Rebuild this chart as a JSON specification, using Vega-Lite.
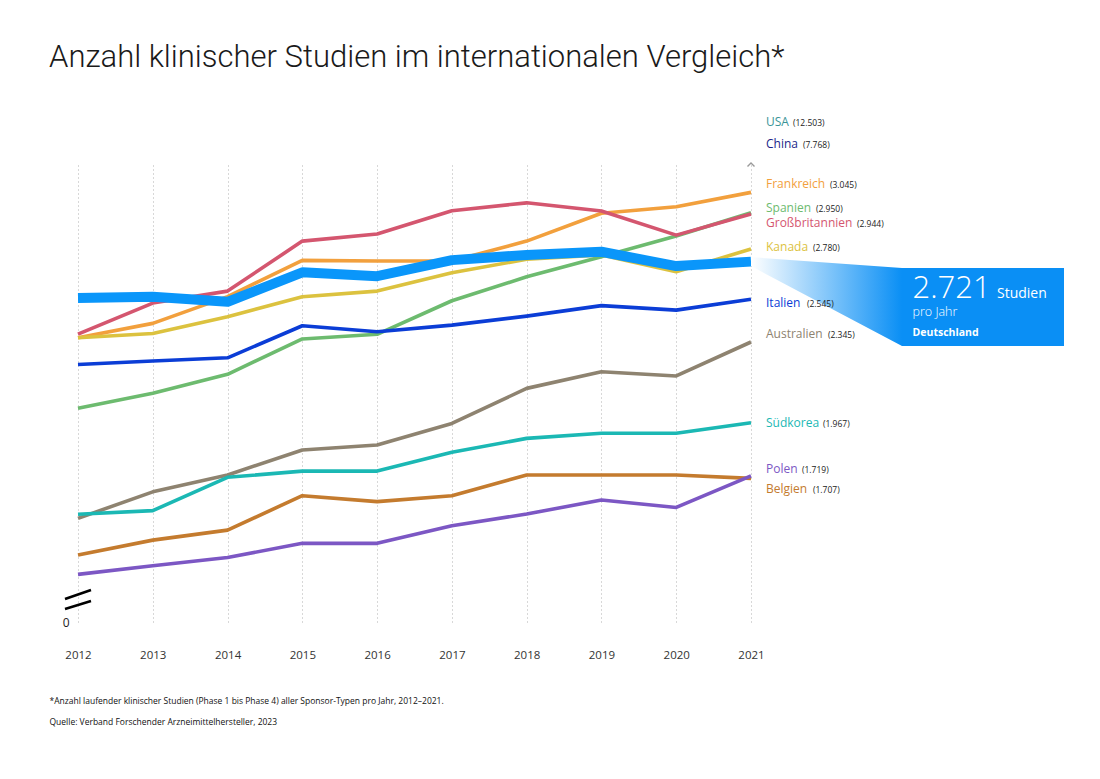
{
  "$schema": "https://vega.github.io/schema/vega-lite/v6.json",
  "width": 673,
  "height": 460,
  "autosize": "none",
  "padding": {"left": 78, "top": 165, "right": 349, "bottom": 154},
  "background": "white",
  "config": {"view": {"stroke": null}, "font": "Open Sans", "text": {"font": "Open Sans"}},
  "title": {
    "text": "Anzahl klinischer Studien im internationalen Vergleich*",
    "anchor": "start",
    "frame": "group",
    "dx": -29,
    "font": "Roboto",
    "fontSize": 31,
    "fontWeight": 300,
    "color": "#1a1a1a",
    "baseline": "alphabetic",
    "offset": 18
  },
  "datasets": {
    "series": [
      {"country": "Frankreich", "year": 2012, "value": 2365}, {"country": "Frankreich", "year": 2013, "value": 2432}, {"country": "Frankreich", "year": 2014, "value": 2557}, {"country": "Frankreich", "year": 2015, "value": 2727}, {"country": "Frankreich", "year": 2016, "value": 2724}, {"country": "Frankreich", "year": 2017, "value": 2724}, {"country": "Frankreich", "year": 2018, "value": 2817}, {"country": "Frankreich", "year": 2019, "value": 2947}, {"country": "Frankreich", "year": 2020, "value": 2978}, {"country": "Frankreich", "year": 2021, "value": 3045},
      {"country": "Spanien", "year": 2012, "value": 2035}, {"country": "Spanien", "year": 2013, "value": 2105}, {"country": "Spanien", "year": 2014, "value": 2194}, {"country": "Spanien", "year": 2015, "value": 2359}, {"country": "Spanien", "year": 2016, "value": 2381}, {"country": "Spanien", "year": 2017, "value": 2538}, {"country": "Spanien", "year": 2018, "value": 2650}, {"country": "Spanien", "year": 2019, "value": 2744}, {"country": "Spanien", "year": 2020, "value": 2841}, {"country": "Spanien", "year": 2021, "value": 2950},
      {"country": "Großbritannien", "year": 2012, "value": 2382}, {"country": "Großbritannien", "year": 2013, "value": 2527}, {"country": "Großbritannien", "year": 2014, "value": 2583}, {"country": "Großbritannien", "year": 2015, "value": 2817}, {"country": "Großbritannien", "year": 2016, "value": 2850}, {"country": "Großbritannien", "year": 2017, "value": 2959}, {"country": "Großbritannien", "year": 2018, "value": 2996}, {"country": "Großbritannien", "year": 2019, "value": 2958}, {"country": "Großbritannien", "year": 2020, "value": 2845}, {"country": "Großbritannien", "year": 2021, "value": 2944},
      {"country": "Kanada", "year": 2012, "value": 2365}, {"country": "Kanada", "year": 2013, "value": 2385}, {"country": "Kanada", "year": 2014, "value": 2463}, {"country": "Kanada", "year": 2015, "value": 2557}, {"country": "Kanada", "year": 2016, "value": 2583}, {"country": "Kanada", "year": 2017, "value": 2669}, {"country": "Kanada", "year": 2018, "value": 2732}, {"country": "Kanada", "year": 2019, "value": 2752}, {"country": "Kanada", "year": 2020, "value": 2674}, {"country": "Kanada", "year": 2021, "value": 2780},
      {"country": "Italien", "year": 2012, "value": 2240}, {"country": "Italien", "year": 2013, "value": 2256}, {"country": "Italien", "year": 2014, "value": 2271}, {"country": "Italien", "year": 2015, "value": 2421}, {"country": "Italien", "year": 2016, "value": 2393}, {"country": "Italien", "year": 2017, "value": 2424}, {"country": "Italien", "year": 2018, "value": 2466}, {"country": "Italien", "year": 2019, "value": 2515}, {"country": "Italien", "year": 2020, "value": 2494}, {"country": "Italien", "year": 2021, "value": 2545},
      {"country": "Australien", "year": 2012, "value": 1520}, {"country": "Australien", "year": 2013, "value": 1644}, {"country": "Australien", "year": 2014, "value": 1723}, {"country": "Australien", "year": 2015, "value": 1840}, {"country": "Australien", "year": 2016, "value": 1863}, {"country": "Australien", "year": 2017, "value": 1964}, {"country": "Australien", "year": 2018, "value": 2128}, {"country": "Australien", "year": 2019, "value": 2206}, {"country": "Australien", "year": 2020, "value": 2186}, {"country": "Australien", "year": 2021, "value": 2345},
      {"country": "Südkorea", "year": 2012, "value": 1539}, {"country": "Südkorea", "year": 2013, "value": 1556}, {"country": "Südkorea", "year": 2014, "value": 1712}, {"country": "Südkorea", "year": 2015, "value": 1741}, {"country": "Südkorea", "year": 2016, "value": 1741}, {"country": "Südkorea", "year": 2017, "value": 1829}, {"country": "Südkorea", "year": 2018, "value": 1894}, {"country": "Südkorea", "year": 2019, "value": 1918}, {"country": "Südkorea", "year": 2020, "value": 1918}, {"country": "Südkorea", "year": 2021, "value": 1967},
      {"country": "Belgien", "year": 2012, "value": 1348}, {"country": "Belgien", "year": 2013, "value": 1418}, {"country": "Belgien", "year": 2014, "value": 1465}, {"country": "Belgien", "year": 2015, "value": 1626}, {"country": "Belgien", "year": 2016, "value": 1598}, {"country": "Belgien", "year": 2017, "value": 1626}, {"country": "Belgien", "year": 2018, "value": 1723}, {"country": "Belgien", "year": 2019, "value": 1723}, {"country": "Belgien", "year": 2020, "value": 1723}, {"country": "Belgien", "year": 2021, "value": 1707},
      {"country": "Polen", "year": 2012, "value": 1258}, {"country": "Polen", "year": 2013, "value": 1298}, {"country": "Polen", "year": 2014, "value": 1337}, {"country": "Polen", "year": 2015, "value": 1403}, {"country": "Polen", "year": 2016, "value": 1403}, {"country": "Polen", "year": 2017, "value": 1485}, {"country": "Polen", "year": 2018, "value": 1540}, {"country": "Polen", "year": 2019, "value": 1606}, {"country": "Polen", "year": 2020, "value": 1571}, {"country": "Polen", "year": 2021, "value": 1719},
      {"country": "Deutschland", "year": 2012, "value": 2551}, {"country": "Deutschland", "year": 2013, "value": 2557}, {"country": "Deutschland", "year": 2014, "value": 2533}, {"country": "Deutschland", "year": 2015, "value": 2671}, {"country": "Deutschland", "year": 2016, "value": 2653}, {"country": "Deutschland", "year": 2017, "value": 2728}, {"country": "Deutschland", "year": 2018, "value": 2752}, {"country": "Deutschland", "year": 2019, "value": 2767}, {"country": "Deutschland", "year": 2020, "value": 2700}, {"country": "Deutschland", "year": 2021, "value": 2721}
    ],
    "labels": [
      {"country": "USA", "year": 2021, "value": 12503},
      {"country": "China", "year": 2021, "value": 7768},
      {"country": "Frankreich", "year": 2021, "value": 3045},
      {"country": "Spanien", "year": 2021, "value": 2950},
      {"country": "Großbritannien", "year": 2021, "value": 2944},
      {"country": "Kanada", "year": 2021, "value": 2780},
      {"country": "Italien", "year": 2021, "value": 2545},
      {"country": "Australien", "year": 2021, "value": 2345},
      {"country": "Südkorea", "year": 2021, "value": 1967},
      {"country": "Polen", "year": 2021, "value": 1719},
      {"country": "Belgien", "year": 2021, "value": 1707}
    ],
    "axisbreak": [
      {"year": 2012, "value": 1138}
    ]
  },
  "encoding": {
    "x": {"field": "year", "type": "quantitative", "scale": {"domain": [2012, 2021], "nice": false, "zero": false}},
    "y": {"field": "value", "type": "quantitative", "scale": {"domain": [1021, 3173], "nice": false, "zero": false, "clamp": true}},
    "color": {
      "field": "country", "type": "nominal", "legend": null,
      "scale": {
        "domain": ["USA", "China", "Frankreich", "Spanien", "Großbritannien", "Kanada", "Deutschland", "Italien", "Australien", "Südkorea", "Polen", "Belgien"],
        "range": ["#3a9497", "#1b1f8a", "#f2a03d", "#6dbb6f", "#d4566f", "#dcc23f", "#0a96fa", "#0b3dd6", "#8e8370", "#1bb8b4", "#7c57c4", "#c47b2e"]
      }
    }
  },
  "layer": [
    {
      "data": {"name": "series"},
      "transform": [{"filter": "datum.country !== 'Deutschland'"}],
      "mark": {"type": "line", "strokeWidth": 3.6, "strokeJoin": "round"},
      "encoding": {
        "x": {"field": "year", "type": "quantitative",
          "axis": {
            "values": [2012, 2013, 2014, 2015, 2016, 2017, 2018, 2019, 2020, 2021],
            "format": "d", "grid": true, "gridDash": [1, 3], "gridColor": "#b0b0b0", "gridWidth": 1,
            "domain": false, "ticks": false, "tickSize": 0, "labelPadding": 24,
            "labelFlush": false, "labelOverlap": false, "labelBound": false,
            "labelFont": "Open Sans", "labelFontSize": 11.5, "labelColor": "#333333",
            "title": ["*Anzahl laufender klinischer Studien (Phase 1 bis Phase 4) aller Sponsor-Typen pro Jahr, 2012–2021.", "Quelle: Verband Forschender Arzneimittelhersteller, 2023"],
            "titleFont": "Open Sans", "titleFontSize": 8.5, "titleFontWeight": "normal", "titleColor": "#111111",
            "titleAnchor": "start", "titleAlign": "left", "titleBaseline": "alphabetic",
            "titleX": -29, "titleY": 78, "titleLineHeight": 21.5
          }
        },
        "y": {"field": "value", "type": "quantitative",
          "axis": {
            "values": [1035], "labelExpr": "'0'", "grid": false, "domain": false, "ticks": false, "tickSize": 0,
            "labelPadding": 9, "labelFont": "Open Sans", "labelFontSize": 12, "labelColor": "#222222", "title": null
          }
        }
      }
    },
    {
      "data": {"name": "series"},
      "transform": [{"filter": "datum.country === 'Deutschland'"}],
      "mark": {"type": "line", "strokeWidth": 10, "strokeJoin": "round", "strokeCap": "butt"}
    },
    {
      "data": {"name": "axisbreak"},
      "mark": {"type": "point", "shape": "M-13,-1L13,-10M-13,9L13,1", "size": 4, "filled": false, "strokeWidth": 2.6, "opacity": 1},
      "encoding": {"color": {"value": "#000000"}}
    },
    {
      "data": {"name": "labels"},
      "transform": [{"filter": "datum.country === 'USA'"}],
      "mark": {"type": "point", "shape": "M-3.5,1.5L0,-2L3.5,1.5", "size": 4, "filled": false, "strokeWidth": 1.4, "opacity": 1},
      "encoding": {"color": {"value": "#9a9a9a"}}
    },
    {
      "data": {"name": "series"},
      "transform": [
        {"filter": "datum.country === 'Deutschland' && datum.year === 2021"},
        {"calculate": "replace(format(datum.value, ','), ',', '.')", "as": "valueText"}
      ],
      "layer": [
        {
          "mark": {
            "type": "point", "shape": "M0,-4.5L151,6.5L313,6.5L313,84.5L151,84.5L0,4.5Z", "size": 4, "filled": true, "opacity": 1, "strokeWidth": 0,
            "fill": {"gradient": "linear", "x1": 0, "y1": 0, "x2": 1, "y2": 0,
              "stops": [{"offset": 0, "color": "#ffffff"}, {"offset": 0.482, "color": "#0a8ff5"}, {"offset": 1, "color": "#0a8ff5"}]}
          },
          "encoding": {"color": null}
        },
        {"mark": {"type": "text", "align": "left", "baseline": "alphabetic", "dx": 161.5, "dy": 36.4, "fontSize": 31, "fontWeight": 300, "fill": "#ffffff"},
          "encoding": {"text": {"field": "valueText"}, "color": null}},
        {"mark": {"type": "text", "align": "left", "baseline": "alphabetic", "dx": 246, "dy": 36.4, "fontSize": 14, "fontWeight": 400, "fill": "#ffffff", "text": "Studien"},
          "encoding": {"color": null}},
        {"mark": {"type": "text", "align": "left", "baseline": "alphabetic", "dx": 161.5, "dy": 54, "fontSize": 12.5, "fontWeight": 300, "fill": "#ffffff", "text": "pro Jahr"},
          "encoding": {"color": null}},
        {"mark": {"type": "text", "align": "left", "baseline": "alphabetic", "dx": 161.5, "dy": 74.4, "fontSize": 10.5, "fontWeight": "bold", "fill": "#ffffff", "text": "Deutschland"},
          "encoding": {"color": null}}
      ]
    },
    {
      "data": {"name": "labels"},
      "transform": [{"calculate": "'(' + replace(format(datum.value, ','), ',', '.') + ')'", "as": "valueText"}],
      "layer": [
        {"transform": [{"filter": "datum.country === 'USA'"}], "layer": [
          {"mark": {"type": "text", "align": "left", "baseline": "alphabetic", "dx": 15, "dy": -39, "fontSize": 12}, "encoding": {"text": {"field": "country"}}},
          {"mark": {"type": "text", "align": "left", "baseline": "alphabetic", "dx": 42, "dy": -39, "fontSize": 8.5, "fill": "#222222"}, "encoding": {"text": {"field": "valueText"}, "color": null}}
        ]},
        {"transform": [{"filter": "datum.country === 'China'"}], "layer": [
          {"mark": {"type": "text", "align": "left", "baseline": "alphabetic", "dx": 15, "dy": -17.5, "fontSize": 12}, "encoding": {"text": {"field": "country"}}},
          {"mark": {"type": "text", "align": "left", "baseline": "alphabetic", "dx": 52, "dy": -17.5, "fontSize": 8.5, "fill": "#222222"}, "encoding": {"text": {"field": "valueText"}, "color": null}}
        ]},
        {"transform": [{"filter": "datum.country === 'Frankreich'"}], "layer": [
          {"mark": {"type": "text", "align": "left", "baseline": "alphabetic", "dx": 15, "dy": -4, "fontSize": 12}, "encoding": {"text": {"field": "country"}}},
          {"mark": {"type": "text", "align": "left", "baseline": "alphabetic", "dx": 79, "dy": -4, "fontSize": 8.5, "fill": "#222222"}, "encoding": {"text": {"field": "valueText"}, "color": null}}
        ]},
        {"transform": [{"filter": "datum.country === 'Spanien'"}], "layer": [
          {"mark": {"type": "text", "align": "left", "baseline": "alphabetic", "dx": 15, "dy": -1, "fontSize": 12}, "encoding": {"text": {"field": "country"}}},
          {"mark": {"type": "text", "align": "left", "baseline": "alphabetic", "dx": 65, "dy": -1, "fontSize": 8.5, "fill": "#222222"}, "encoding": {"text": {"field": "valueText"}, "color": null}}
        ]},
        {"transform": [{"filter": "datum.country === 'Großbritannien'"}], "layer": [
          {"mark": {"type": "text", "align": "left", "baseline": "alphabetic", "dx": 15, "dy": 13, "fontSize": 12}, "encoding": {"text": {"field": "country"}}},
          {"mark": {"type": "text", "align": "left", "baseline": "alphabetic", "dx": 106, "dy": 13, "fontSize": 8.5, "fill": "#222222"}, "encoding": {"text": {"field": "valueText"}, "color": null}}
        ]},
        {"transform": [{"filter": "datum.country === 'Kanada'"}], "layer": [
          {"mark": {"type": "text", "align": "left", "baseline": "alphabetic", "dx": 15, "dy": 2, "fontSize": 12}, "encoding": {"text": {"field": "country"}}},
          {"mark": {"type": "text", "align": "left", "baseline": "alphabetic", "dx": 62, "dy": 2, "fontSize": 8.5, "fill": "#222222"}, "encoding": {"text": {"field": "valueText"}, "color": null}}
        ]},
        {"transform": [{"filter": "datum.country === 'Italien'"}], "layer": [
          {"mark": {"type": "text", "align": "left", "baseline": "alphabetic", "dx": 15, "dy": 8, "fontSize": 12}, "encoding": {"text": {"field": "country"}}},
          {"mark": {"type": "text", "align": "left", "baseline": "alphabetic", "dx": 56, "dy": 8, "fontSize": 8.5, "fill": "#222222"}, "encoding": {"text": {"field": "valueText"}, "color": null}}
        ]},
        {"transform": [{"filter": "datum.country === 'Australien'"}], "layer": [
          {"mark": {"type": "text", "align": "left", "baseline": "alphabetic", "dx": 15, "dy": -3.5, "fontSize": 12}, "encoding": {"text": {"field": "country"}}},
          {"mark": {"type": "text", "align": "left", "baseline": "alphabetic", "dx": 77, "dy": -3.5, "fontSize": 8.5, "fill": "#222222"}, "encoding": {"text": {"field": "valueText"}, "color": null}}
        ]},
        {"transform": [{"filter": "datum.country === 'Südkorea'"}], "layer": [
          {"mark": {"type": "text", "align": "left", "baseline": "alphabetic", "dx": 15, "dy": 4, "fontSize": 12}, "encoding": {"text": {"field": "country"}}},
          {"mark": {"type": "text", "align": "left", "baseline": "alphabetic", "dx": 72, "dy": 4, "fontSize": 8.5, "fill": "#222222"}, "encoding": {"text": {"field": "valueText"}, "color": null}}
        ]},
        {"transform": [{"filter": "datum.country === 'Polen'"}], "layer": [
          {"mark": {"type": "text", "align": "left", "baseline": "alphabetic", "dx": 15, "dy": -3, "fontSize": 12}, "encoding": {"text": {"field": "country"}}},
          {"mark": {"type": "text", "align": "left", "baseline": "alphabetic", "dx": 51, "dy": -3, "fontSize": 8.5, "fill": "#222222"}, "encoding": {"text": {"field": "valueText"}, "color": null}}
        ]},
        {"transform": [{"filter": "datum.country === 'Belgien'"}], "layer": [
          {"mark": {"type": "text", "align": "left", "baseline": "alphabetic", "dx": 15, "dy": 14.5, "fontSize": 12}, "encoding": {"text": {"field": "country"}}},
          {"mark": {"type": "text", "align": "left", "baseline": "alphabetic", "dx": 62, "dy": 14.5, "fontSize": 8.5, "fill": "#222222"}, "encoding": {"text": {"field": "valueText"}, "color": null}}
        ]}
      ]
    }
  ]
}
